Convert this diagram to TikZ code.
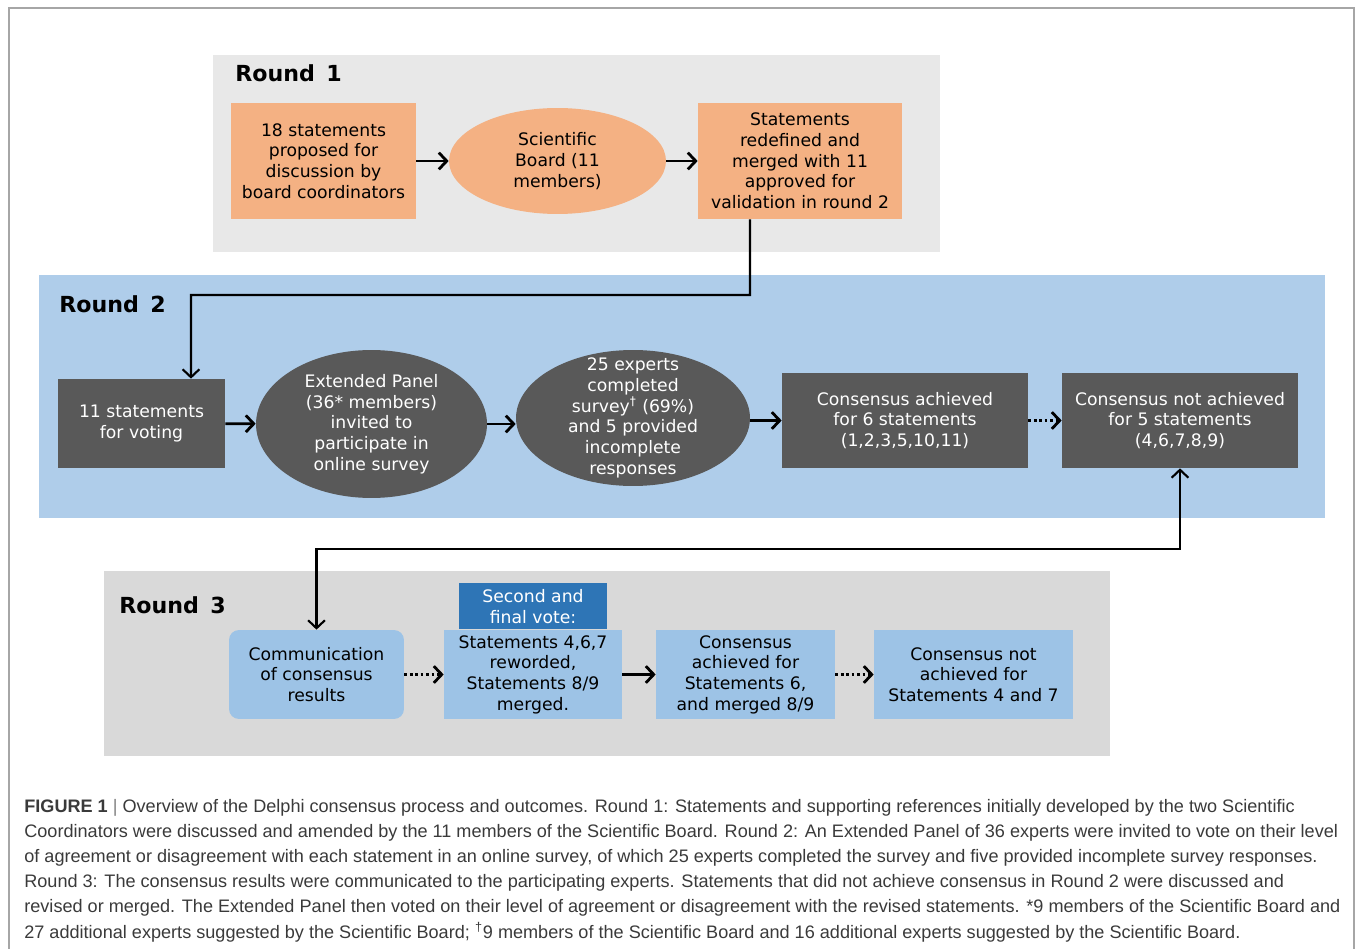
\documentclass[tikz,border=0pt]{standalone}
\usepackage{fontspec}
\setmainfont{DejaVu Sans}
\newfontfamily\capfont{Liberation Sans}
\usepackage{tikz}
\usetikzlibrary{positioning}
\usetikzlibrary{shapes.geometric}
\usetikzlibrary{arrows.meta}

\definecolor{rdone}{HTML}{E8E8E8}
\definecolor{rdtwo}{HTML}{AFCDEA}
\definecolor{rdthree}{HTML}{D9D9D9}
\definecolor{peach}{HTML}{F4B183}
\definecolor{slate}{HTML}{595959}
\definecolor{paleblue}{HTML}{9DC3E6}
\definecolor{deepblue}{HTML}{2E75B6}
\definecolor{capgray}{HTML}{3A3A3A}
\definecolor{framegray}{HTML}{A6A6A6}

\tikzset{
  boxtext/.style={align=center, inner sep=0pt, font=\fontsize{9.8}{11.8}\selectfont},
  peachbox/.style={boxtext, rectangle, fill=peach, minimum width=#1, minimum height=2.32cm},
  peachell/.style={boxtext, ellipse, fill=peach},
  slatebox/.style={boxtext, rectangle, fill=slate, text=white, minimum width=#1},
  slateell/.style={boxtext, ellipse, fill=slate, text=white},
  bluebox/.style={boxtext, rectangle, fill=paleblue, minimum width=#1, minimum height=1.78cm},
  roundlabel/.style={anchor=west, inner sep=0pt, font=\fontsize{12.6}{14}\selectfont\bfseries},
  flow/.style={->, line width=1.6pt},
  dotflow/.style={flow, dash pattern=on 1.6pt off 1.5pt},
  link/.style={line width=1.2pt}
}

\begin{document}
\begin{tikzpicture}[x=0.02cm, y=-0.02cm, >={Straight Barb[length=4.5pt,width=9.5pt]}]
\useasboundingbox (0,0) rectangle (1355,949);
\draw[framegray, line width=0.9pt] (9,949) -- (9,8) -- (1354,8) -- (1354,949);

% panels
\fill[rdone] (213,55) rectangle (940,252);
\fill[rdtwo] (39,275) rectangle (1325,518);
\fill[rdthree] (104,571) rectangle (1110,756);
\node[roundlabel] (lab1) at (235,73) {Round\, 1};
\node[roundlabel] (lab2) at (59,304) {Round\, 2};
\node[roundlabel] (lab3) at (119,605) {Round\, 3};

% round 1
\node[peachbox=3.7cm] (r1a) at (323.5,161) {18 statements\\proposed for\\discussion by\\board coordinators};
\node[peachell, minimum width=4.34cm, minimum height=2.12cm] (r1b) at (557.5,161) {Scientific\\Board (11\\members)};
\node[peachbox=4.08cm] (r1c) at (800,161) {Statements\\redefined and\\merged with 11\\approved for\\validation in round 2};

% round 2
\node[slatebox=3.34cm, minimum height=1.78cm] (r2a) at (141.5,423.5) {11 statements\\for voting};
\node[slateell, minimum width=4.62cm, minimum height=2.96cm] (r2b) at (371.5,424) {Extended Panel\\(36* members)\\invited to\\participate in\\online survey};
\node[slateell, inner ysep=-7pt, minimum width=4.68cm, minimum height=2.72cm] (r2c) at (633,418) {25 experts\\completed\\survey\textsuperscript{†} (69\%)\\and 5 provided\\incomplete\\responses};
\node[slatebox=4.92cm, minimum height=1.9cm] (r2d) at (905,420.5) {Consensus achieved\\for 6 statements\\(1,2,3,5,10,11)};
\node[slatebox=4.72cm, minimum height=1.9cm] (r2e) at (1180,420.5) {Consensus not achieved\\for 5 statements\\(4,6,7,8,9)};

% round 3
\node[bluebox=3.5cm, rounded corners=0.2cm] (r3a) at (316.5,674.5) {Communication\\of consensus\\results};
\node[bluebox=3.56cm] (r3b) at (533,674.5) {Statements 4,6,7\\reworded,\\Statements 8/9\\merged.};
\node[boxtext, fill=deepblue, text=white, minimum width=2.98cm, minimum height=0.92cm, above=0pt of r3b] (vote) {Second and\\final vote:};
\node[bluebox=3.58cm] (r3c) at (745.5,674.5) {Consensus\\achieved for\\Statements 6,\\and merged 8/9};
\node[bluebox=3.98cm] (r3d) at (973.5,674.5) {Consensus not\\achieved for\\Statements 4 and 7};

% connectors
\draw[flow] (r1a) -- (r1b);
\draw[flow] (r1b) -- (r1c);
\coordinate (turn1) at (191,295);
\draw[link, ->] ([xshift=-1cm]r1c.south) |- (turn1) -- ([xshift=0.99cm]r2a.north);
\draw[flow] (r2a) -- (r2b);
\draw[flow] (r2b.east) -- (r2b.east -| r2c.west);
\draw[flow] (r2c.east |- r2d) -- (r2d.west);
\draw[dotflow] (r2d) -- (r2e);
\coordinate (turn2) at (750,549);
\draw[link, <->] (r3a.north) |- (turn2) -| (r2e.south);
\draw[dotflow] (r3a) -- (r3b);
\draw[flow] (r3b) -- (r3c);
\draw[dotflow] (r3c) -- (r3d);

% caption
\node[anchor=north west, inner sep=0pt, align=left, text=capgray,
      font=\capfont\fontsize{10.3}{14.3}\selectfont] (caption) at (24,799)
{\textbf{FIGURE 1} {\color{gray}|} Overview of the Delphi consensus process and outcomes. Round 1: Statements and supporting references initially developed by the two Scientific\\
Coordinators were discussed and amended by the 11 members of the Scientific Board. Round 2: An Extended Panel of 36 experts were invited to vote on their level\\
of agreement or disagreement with each statement in an online survey, of which 25 experts completed the survey and five provided incomplete survey responses.\\
Round 3: The consensus results were communicated to the participating experts. Statements that did not achieve consensus in Round 2 were discussed and\\
revised or merged. The Extended Panel then voted on their level of agreement or disagreement with the revised statements. *9 members of the Scientific Board and\\
27 additional experts suggested by the Scientific Board; \textsuperscript{†}9 members of the Scientific Board and 16 additional experts suggested by the Scientific Board.};
\end{tikzpicture}
\end{document}
